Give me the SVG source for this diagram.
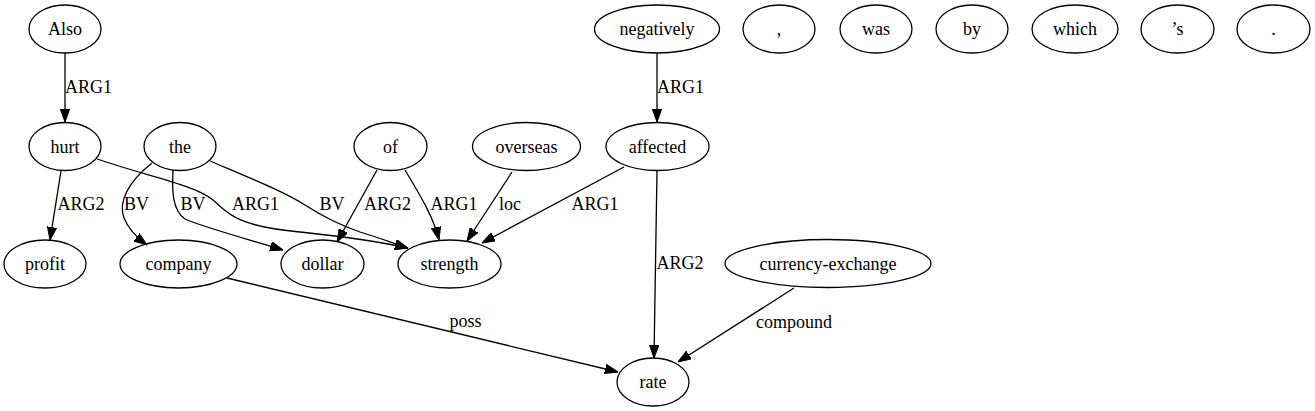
<svg xmlns="http://www.w3.org/2000/svg" width="1315" height="411" viewBox="0 0 1315 411">
<defs>
<marker id="arr" viewBox="0 0 13 10" refX="13" refY="5" markerWidth="13" markerHeight="10" markerUnits="userSpaceOnUse" orient="auto"><path d="M0,0.3 L13,5 L0,9.7 z" fill="#000" stroke="#000" stroke-width="1"/></marker>
</defs>
<rect width="1315" height="411" fill="#fff"/>
<g id="edges" fill="none" stroke="#000" stroke-width="1.3">
<line x1="65" y1="53" x2="65" y2="122" marker-end="url(#arr)"/>
<line x1="657" y1="53" x2="657" y2="122" marker-end="url(#arr)"/>
<line x1="61" y1="171" x2="50" y2="240" marker-end="url(#arr)"/>
<path d="M97,159 C150,177 195,185 213,200 C228,213 235,226 300,232 C350,237 385,243 408,248" marker-end="url(#arr)"/>
<path d="M152,163 C128,182 118,202 124,218 C128,228 136,237 147,245" marker-end="url(#arr)"/>
<path d="M173,170 C172,190 172,210 185,219 C200,226 250,240 283,250" marker-end="url(#arr)"/>
<path d="M210,161 C250,178 285,192 305,205 C325,218 340,225 360,232 C380,238 395,244 408,248" marker-end="url(#arr)"/>
<line x1="377" y1="170" x2="337" y2="242" marker-end="url(#arr)"/>
<path d="M405,170 C418,192 433,215 439,240" marker-end="url(#arr)"/>
<line x1="512" y1="172" x2="467" y2="241" marker-end="url(#arr)"/>
<line x1="624" y1="167" x2="482" y2="243" marker-end="url(#arr)"/>
<line x1="657" y1="171" x2="654" y2="358" marker-end="url(#arr)"/>
<line x1="794" y1="288" x2="678" y2="362" marker-end="url(#arr)"/>
<line x1="227" y1="278" x2="618" y2="372" marker-end="url(#arr)"/>
<text x="88.5" y="93" stroke="none" fill="#000" text-anchor="middle" font-family="Liberation Serif" font-size="18">ARG1</text>
<text x="680.5" y="93" stroke="none" fill="#000" text-anchor="middle" font-family="Liberation Serif" font-size="18">ARG1</text>
<text x="81" y="210" stroke="none" fill="#000" text-anchor="middle" font-family="Liberation Serif" font-size="18">ARG2</text>
<text x="136.5" y="210" stroke="none" fill="#000" text-anchor="middle" font-family="Liberation Serif" font-size="18">BV</text>
<text x="193" y="210" stroke="none" fill="#000" text-anchor="middle" font-family="Liberation Serif" font-size="18">BV</text>
<text x="255.5" y="210" stroke="none" fill="#000" text-anchor="middle" font-family="Liberation Serif" font-size="18">ARG1</text>
<text x="332" y="210" stroke="none" fill="#000" text-anchor="middle" font-family="Liberation Serif" font-size="18">BV</text>
<text x="387.5" y="210" stroke="none" fill="#000" text-anchor="middle" font-family="Liberation Serif" font-size="18">ARG2</text>
<text x="454" y="210" stroke="none" fill="#000" text-anchor="middle" font-family="Liberation Serif" font-size="18">ARG1</text>
<text x="510" y="210" stroke="none" fill="#000" text-anchor="middle" font-family="Liberation Serif" font-size="18">loc</text>
<text x="595" y="210" stroke="none" fill="#000" text-anchor="middle" font-family="Liberation Serif" font-size="18">ARG1</text>
<text x="680" y="269" stroke="none" fill="#000" text-anchor="middle" font-family="Liberation Serif" font-size="18">ARG2</text>
<text x="794" y="328" stroke="none" fill="#000" text-anchor="middle" font-family="Liberation Serif" font-size="18">compound</text>
<text x="465.5" y="327" stroke="none" fill="#000" text-anchor="middle" font-family="Liberation Serif" font-size="18">poss</text>
</g>
<g id="n-also"><ellipse cx="65" cy="29" rx="36" ry="24" fill="none" stroke="#000" stroke-width="1.3"/><text x="65" y="35" text-anchor="middle" font-family="Liberation Serif" font-size="18">Also</text></g>
<g id="n-negatively"><ellipse cx="657" cy="29" rx="62.5" ry="24" fill="none" stroke="#000" stroke-width="1.3"/><text x="657" y="35" text-anchor="middle" font-family="Liberation Serif" font-size="18">negatively</text></g>
<g id="n-comma"><ellipse cx="779" cy="29" rx="36" ry="24" fill="none" stroke="#000" stroke-width="1.3"/><text x="779" y="35" text-anchor="middle" font-family="Liberation Serif" font-size="18">,</text></g>
<g id="n-was"><ellipse cx="876" cy="29" rx="36" ry="24" fill="none" stroke="#000" stroke-width="1.3"/><text x="876" y="35" text-anchor="middle" font-family="Liberation Serif" font-size="18">was</text></g>
<g id="n-by"><ellipse cx="972" cy="29" rx="36" ry="24" fill="none" stroke="#000" stroke-width="1.3"/><text x="972" y="35" text-anchor="middle" font-family="Liberation Serif" font-size="18">by</text></g>
<g id="n-which"><ellipse cx="1075" cy="29" rx="43" ry="24" fill="none" stroke="#000" stroke-width="1.3"/><text x="1075" y="35" text-anchor="middle" font-family="Liberation Serif" font-size="18">which</text></g>
<g id="n-s"><ellipse cx="1177.5" cy="29" rx="36.5" ry="24" fill="none" stroke="#000" stroke-width="1.3"/><text x="1177.5" y="35" text-anchor="middle" font-family="Liberation Serif" font-size="18">’s</text></g>
<g id="n-period"><ellipse cx="1273.5" cy="29" rx="36.5" ry="24" fill="none" stroke="#000" stroke-width="1.3"/><text x="1273.5" y="35" text-anchor="middle" font-family="Liberation Serif" font-size="18">.</text></g>
<g id="n-hurt"><ellipse cx="65" cy="146.5" rx="36" ry="24" fill="none" stroke="#000" stroke-width="1.3"/><text x="65" y="152.5" text-anchor="middle" font-family="Liberation Serif" font-size="18">hurt</text></g>
<g id="n-the"><ellipse cx="180" cy="146.5" rx="36" ry="24" fill="none" stroke="#000" stroke-width="1.3"/><text x="180" y="152.5" text-anchor="middle" font-family="Liberation Serif" font-size="18">the</text></g>
<g id="n-of"><ellipse cx="390.5" cy="146.5" rx="36.5" ry="24" fill="none" stroke="#000" stroke-width="1.3"/><text x="390.5" y="152.5" text-anchor="middle" font-family="Liberation Serif" font-size="18">of</text></g>
<g id="n-overseas"><ellipse cx="526.5" cy="146.5" rx="54" ry="24" fill="none" stroke="#000" stroke-width="1.3"/><text x="526.5" y="152.5" text-anchor="middle" font-family="Liberation Serif" font-size="18">overseas</text></g>
<g id="n-affected"><ellipse cx="657.5" cy="146.5" rx="51.5" ry="24" fill="none" stroke="#000" stroke-width="1.3"/><text x="657.5" y="152.5" text-anchor="middle" font-family="Liberation Serif" font-size="18">affected</text></g>
<g id="n-profit"><ellipse cx="45" cy="264" rx="41" ry="24" fill="none" stroke="#000" stroke-width="1.3"/><text x="45" y="270" text-anchor="middle" font-family="Liberation Serif" font-size="18">profit</text></g>
<g id="n-company"><ellipse cx="178.5" cy="264" rx="58.5" ry="24" fill="none" stroke="#000" stroke-width="1.3"/><text x="178.5" y="270" text-anchor="middle" font-family="Liberation Serif" font-size="18">company</text></g>
<g id="n-dollar"><ellipse cx="322.5" cy="264" rx="41.5" ry="24" fill="none" stroke="#000" stroke-width="1.3"/><text x="322.5" y="270" text-anchor="middle" font-family="Liberation Serif" font-size="18">dollar</text></g>
<g id="n-strength"><ellipse cx="449.5" cy="264" rx="51.5" ry="24" fill="none" stroke="#000" stroke-width="1.3"/><text x="449.5" y="270" text-anchor="middle" font-family="Liberation Serif" font-size="18">strength</text></g>
<g id="n-currency-exchange"><ellipse cx="828" cy="263.5" rx="103" ry="24" fill="none" stroke="#000" stroke-width="1.3"/><text x="828" y="269.5" text-anchor="middle" font-family="Liberation Serif" font-size="18">currency-exchange</text></g>
<g id="n-rate"><ellipse cx="653" cy="382" rx="36" ry="24" fill="none" stroke="#000" stroke-width="1.3"/><text x="653" y="388" text-anchor="middle" font-family="Liberation Serif" font-size="18">rate</text></g>
</svg>
